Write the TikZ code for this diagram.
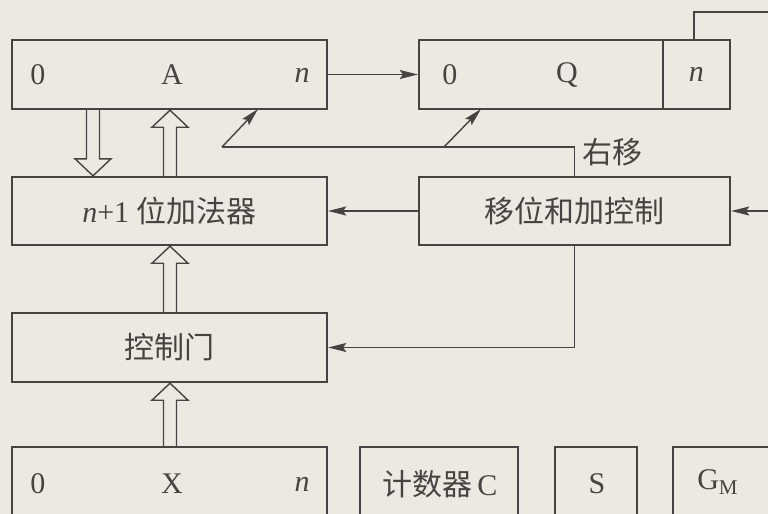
\documentclass[tikz,border=0pt]{standalone}
\usepackage{fontspec}
\setmainfont{Liberation Serif}
\newfontfamily\cjk{Noto Sans CJK SC}
\usepackage{tikz}
\usetikzlibrary{calc,arrows.meta}
\definecolor{paper}{RGB}{236,233,227}
\definecolor{ink}{RGB}{70,68,66}

% hollow bus arrow, vertical, from #1 to #2
\newcommand{\busarrow}[2]{%
  \draw[line width=0.7pt,fill=paper] let \p1=#1, \p2=#2, \n1={sign(\y2-\y1)} in
    (\x1-3.25pt,\y1) -- (\x1-3.25pt,\y2-\n1*8.5pt) -- (\x1-9pt,\y2-\n1*8.5pt) -- (\x1,\y2)
    -- (\x1+9pt,\y2-\n1*8.5pt) -- (\x1+3.25pt,\y2-\n1*8.5pt) -- (\x1+3.25pt,\y1);}

\begin{document}
\begin{tikzpicture}[x=0.5pt,y=-0.5pt,font=\fontsize{15}{18}\selectfont,color=ink,
  >={Stealth[length=9pt,width=4.5pt,inset=1.5pt]}]
   \clip (0,0) rectangle (768,514);
   \fill[paper] (0,0) rectangle (768,514);

    \tikzstyle{every node}=[draw=ink,line width=1.2pt,rectangle,inner sep=0pt,text=ink]
    \node[minimum width=157.5pt,minimum height=34.5pt](regA) at (169.5,74.5){};
    \node[minimum width=122pt,minimum height=34.5pt](qmain) at (541,74.5){};
    \node[minimum width=33.5pt,minimum height=34.5pt](qlow) at (696.5,74.5){\itshape n};
    \node[minimum width=157.5pt,minimum height=34pt](adder) at (169.5,211){{\itshape n}+1 {\cjk 位加法器}};
    \node[minimum width=155.5pt,minimum height=34pt](ctrl) at (574.5,211){\cjk 移位和加控制};
    \node[minimum width=157.5pt,minimum height=34.5pt](gate) at (169.5,347.5){\cjk 控制门};
    \node[minimum width=157.5pt,minimum height=50pt](regX) at (169.5,497){};
    \node[minimum width=79pt,minimum height=50pt](cnt) at (439,497){};
    \node[minimum width=41pt,minimum height=50pt](regS) at (596,497){};
    \node[minimum width=64pt,minimum height=50pt](regG) at (737,497){};

  \tikzstyle{every node}=[text=ink]
    \node(a0) at (38,75){0};
    \node(aA) at (172,75){A};
    \node(an) at (302,75){\itshape n};
    \node(q0) at (450,75){0};
    \node(qQ) at (567,75){Q};
    \node(x0) at (38,484){0};
    \node(xX) at (172,484){X};
    \node(xn) at (302,484){\itshape n};
    \node(cntl) at (440,484){{\cjk 计数器}\,C};
    \node(sl) at (597,484){S};
    \node(gl) at (718,482){G\textsubscript{M}};
    \node(shr) at (612,152){\cjk 右移};

     \coordinate (qout) at (800,12);
     \coordinate (ctrlin) at (800,211);
     \coordinate (shl) at (222,147);
     \coordinate (shq) at (444,147);

   \draw[line width=0.7pt,->] (regA.east) -- (qmain.west);
   \draw[line width=0.7pt] (qlow.north west) ++(32,0) |- (qout);
   \draw[line width=0.7pt,->] (ctrlin) -- (ctrl.east);
   \draw[line width=0.7pt,->] (ctrl.west) -- (adder.east);
   \draw[line width=0.7pt,->] (ctrl.south) |- (gate.east);

     % right shift lines
      \draw[line width=0.7pt] (ctrl.north) |- (shl);
      \draw[line width=0.7pt,->] (shl) -- ++(36,-38);
      \draw[line width=0.7pt,->] (shq) -- ++(37,-38);

     % buses
      \busarrow{(regA.south -| 93,0)}{(adder.north -| 93,0)}
      \busarrow{(adder.north -| 170,0)}{(regA.south -| 170,0)}
      \busarrow{(gate.north -| 170,0)}{(adder.south -| 170,0)}
      \busarrow{(regX.north -| 170,0)}{(gate.south -| 170,0)}

  \end{tikzpicture}
\end{document}
